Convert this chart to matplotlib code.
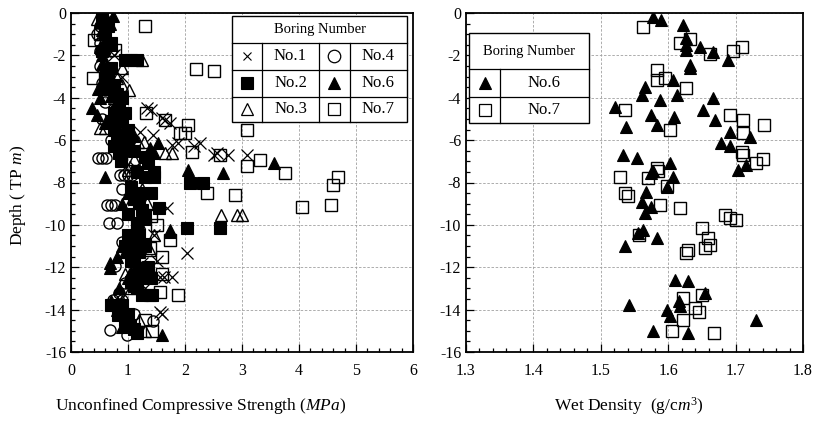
import matplotlib
matplotlib.use("Agg")
import matplotlib.pyplot as plt
from matplotlib.lines import Line2D
from matplotlib.patches import Rectangle
from matplotlib.ticker import MultipleLocator, FormatStrFormatter

plt.rcParams['font.family'] = ['Liberation Serif', 'DejaVu Serif']
plt.rcParams['mathtext.fontset'] = 'custom'
plt.rcParams['mathtext.rm'] = 'Liberation Serif'
plt.rcParams['mathtext.it'] = 'Liberation Serif:italic'
plt.rcParams['axes.unicode_minus'] = False

# ---------------- data: left panel (strength MPa, depth m) ----------------
no1_ucs = [0.75, 0.9, 1.33, 1.40, 1.59, 1.65, 1.74, 1.21, 1.44, 1.88, 2.26, 1.77, 2.15, 2.56, 2.50, 2.76, 3.08,
           0.95, 1.12, 1.30, 1.68, 1.45, 2.03, 1.50, 1.56, 1.63, 1.77, 1.30, 1.56, 1.60, 1.10, 1.25]
no1_dep = [-2.0, -3.0, -4.5, -4.6, -4.97, -5.05, -5.2, -5.6, -5.75, -6.15, -6.15, -6.23, -6.3, -6.62, -6.7, -6.7, -6.7,
           -7.25, -7.25, -8.5, -9.21, -10.5, -11.34, -11.7, -12.44, -12.44, -12.44, -13.0, -14.09, -14.2, -10.9, -11.8]

no2_ucs = [0.55, 0.65, 0.60, 0.70, 0.95, 1.06, 1.15, 0.70, 0.65, 0.75, 0.80, 0.85, 0.75, 0.95, 0.70, 0.90, 0.75, 1.00,
           0.80, 1.00, 0.75, 0.95, 1.30, 1.35, 1.15, 1.45, 1.30, 1.45, 2.09, 2.32, 1.20, 1.40, 1.10, 1.55, 1.00, 1.30,
           1.15, 2.03, 2.61, 1.00, 1.20, 1.10, 1.30, 1.00, 1.20, 1.05, 1.20, 1.24, 1.40, 1.10, 1.39, 1.25, 1.42, 0.71,
           0.90, 0.83, 1.00, 1.04, 1.15, 0.60, 0.85, 0.55, 0.90,
           0.62, 0.85, 0.95, 1.10, 0.88, 1.05, 1.20, 1.25, 1.15, 0.95, 1.10, 1.35, 1.05, 1.15, 0.95, 1.30, 1.10]
no2_dep = [-0.3, -0.6, -1.0, -1.4, -2.2, -2.2, -2.2, -2.6, -3.0, -3.4, -3.8, -4.3, -4.7, -4.7, -5.1, -5.1, -5.5, -5.5,
           -5.9, -5.9, -6.3, -6.3, -6.8, -7.1, -7.5, -7.5, -7.72, -7.72, -8.03, -8.03, -8.5, -8.5, -8.8, -9.2, -9.5, -9.6,
           -9.9, -10.16, -10.16, -10.5, -10.5, -10.9, -10.9, -11.3, -11.3, -11.7, -12.1, -12.5, -12.5, -12.9, -13.3, -13.3,
           -13.3, -13.77, -13.8, -14.24, -14.2, -14.72, -15.1, -3.6, -6.6, -1.8, -4.0,
           -2.9, -4.9, -6.0, -6.5, -7.0, -8.2, -8.9, -9.3, -10.0, -11.0, -11.5, -12.0, -12.7, -13.0, -14.5, -11.0, -14.9]

no3_ucs = [0.45, 0.55, 1.24, 0.90, 0.80, 0.90, 1.01, 0.75, 0.85, 0.51, 0.60, 0.70, 1.18, 1.28, 1.77, 1.65, 1.10, 1.00,
           1.04, 1.33, 2.64, 2.91, 3.00, 1.20, 1.45, 1.25, 1.38, 1.10, 0.95, 1.05, 0.90, 1.20, 1.30, 1.25]
no3_dep = [-0.3, -1.0, -2.2, -2.6, -3.08, -3.4, -3.63, -4.0, -4.4, -5.44, -5.44, -5.0, -6.1, -6.1, -6.62, -6.62, -6.9, -7.4,
           -8.98, -8.98, -9.53, -9.53, -9.53, -9.9, -10.5, -11.0, -11.2, -11.6, -12.3, -13.0, -13.6, -14.5, -15.0, -8.3]

no4_ucs = [0.55, 0.50, 0.45, 0.50, 0.51, 0.60, 0.70, 0.50, 0.55, 0.60, 0.55, 0.70, 0.48, 0.55, 0.62, 0.86, 0.93, 1.00,
           1.07, 0.90, 0.64, 0.70, 0.78, 0.66, 0.80, 0.89, 0.77, 0.95, 0.85, 0.74, 0.90, 1.44, 0.68, 0.98, 1.10]
no4_dep = [-0.2, -0.6, -1.0, -1.4, -1.8, -1.8, -1.8, -2.5, -3.3, -4.2, -5.0, -6.0, -6.86, -6.86, -6.86, -7.64, -7.64, -7.64,
           -7.64, -8.3, -9.06, -9.06, -9.06, -9.92, -9.92, -10.79, -11.93, -12.75, -13.2, -13.54, -13.54, -14.56, -14.95,
           -15.19, -14.2]

no6_ucs = [0.60, 0.74, 0.50, 0.55, 0.62, 0.50, 0.55, 0.54, 0.60, 0.55, 0.48, 0.60, 0.50, 0.36, 0.45, 0.60, 0.80, 1.53,
           1.39, 1.45, 2.05, 0.60, 3.56, 2.67, 1.00, 0.90, 1.30, 1.74, 1.74, 0.90, 0.80, 0.68, 0.68, 1.00, 0.85, 0.70,
           0.80, 1.59, 1.00, 1.20, 0.95,
           0.68, 0.72, 0.66, 0.70, 0.75, 0.95, 1.10, 0.95, 1.05, 0.90]
no6_dep = [-0.1, -0.15, -0.4, -0.8, -1.2, -1.6, -2.0, -2.4, -2.8, -3.2, -3.6, -3.6, -4.0, -4.5, -4.81, -5.2, -5.6, -6.15,
           -6.38, -6.6, -7.4, -7.72, -7.06, -7.53, -8.5, -9.0, -9.7, -10.24, -10.35, -11.0, -11.5, -11.81, -12.04, -12.5,
           -13.0, -13.6, -14.0, -15.19, -14.5, -10.8, -6.4,
           -0.5, -1.5, -2.6, -3.9, -4.4, -5.3, -5.8, -11.3, -12.2, -14.8]

no7_ucs = [1.29, 0.40, 0.50, 0.77, 2.20, 2.50, 0.39, 1.32, 1.65, 2.06, 3.08, 1.91, 2.00, 2.12, 2.61, 3.09, 3.32, 3.75,
           4.60, 4.69, 2.38, 2.88, 4.57, 4.05, 1.40, 1.50, 1.74, 1.39, 1.60, 1.60, 1.56, 1.87, 1.42, 1.30]
no7_dep = [-0.61, -1.27, -1.0, -1.75, -2.66, -2.72, -3.08, -4.73, -5.05, -5.28, -5.52, -5.67, -5.67, -6.54, -6.7, -7.2,
           -6.93, -7.56, -8.11, -7.72, -8.5, -8.58, -9.06, -9.17, -9.6, -10.0, -10.71, -11.1, -11.5, -12.3, -13.15, -13.3,
           -15.03, -14.5]

# ---------------- data: right panel (wet density g/cm3, depth m) ----------------
r6_den = [1.578, 1.589, 1.622, 1.627, 1.627, 1.627, 1.647, 1.667, 1.689, 1.632, 1.632, 1.607, 1.566, 1.561, 1.588, 1.613,
          1.667, 1.652, 1.670, 1.692, 1.679, 1.692, 1.721, 1.703, 1.716, 1.609, 1.583, 1.575, 1.521, 1.538, 1.533, 1.553,
          1.603, 1.577, 1.607, 1.598, 1.575, 1.567, 1.561, 1.566, 1.574, 1.563, 1.536, 1.583, 1.555, 1.610, 1.629, 1.542,
          1.598, 1.603, 1.616, 1.618, 1.578, 1.629, 1.730, 1.655]
r6_dep = [-0.17, -0.33, -0.57, -1.2, -1.5, -1.75, -1.59, -1.83, -2.2, -2.45, -2.6, -3.16, -3.47, -3.87, -4.1, -3.87,
          -4.02, -4.58, -5.05, -5.6, -6.12, -6.3, -5.83, -7.4, -7.17, -4.89, -5.28, -4.81, -4.42, -5.36, -6.7, -6.86,
          -7.09, -7.48, -7.72, -8.19, -7.56, -8.43, -8.9, -9.45, -9.14, -10.24, -11.02, -10.63, -10.4, -12.6, -12.67,
          -13.77, -14.0, -14.3, -13.6, -13.85, -15.03, -15.1, -14.5, -13.2]

r7_den = [1.562, 1.618, 1.632, 1.662, 1.696, 1.709, 1.583, 1.583, 1.595, 1.626, 1.536, 1.602, 1.691, 1.711, 1.742, 1.711,
          1.709, 1.711, 1.730, 1.741, 1.528, 1.570, 1.585, 1.583, 1.598, 1.536, 1.540, 1.588, 1.618, 1.556, 1.627, 1.622,
          1.605, 1.622, 1.684, 1.692, 1.701, 1.650, 1.659, 1.662, 1.629, 1.655, 1.668, 1.645, 1.640, 1.650]
r7_dep = [-0.64, -1.4, -1.24, -1.93, -1.78, -1.59, -2.69, -3.16, -3.08, -3.55, -4.58, -5.52, -4.81, -5.05, -5.28, -5.67,
          -6.54, -6.7, -7.09, -6.9, -7.72, -7.8, -7.48, -7.33, -8.15, -8.5, -8.66, -9.06, -9.2, -10.47, -11.34, -13.46,
          -15.03, -14.48, -9.53, -9.68, -9.76, -10.16, -10.63, -10.94, -11.18, -11.1, -15.1, -14.1, -13.9, -13.3]

W, H = 819, 421
fig = plt.figure(figsize=(W / 100, H / 100), dpi=100)

def frac(x0, y0, x1, y1):
    return [x0 / W, 1 - y1 / H, (x1 - x0) / W, (y1 - y0) / H]

axL = fig.add_axes(frac(71, 13, 413, 352))
axR = fig.add_axes(frac(466, 13, 803, 352))

open_kw = dict(ls='none', mfc='none', mec='black', mew=1.0, ms=8)
fill_kw = dict(ls='none', mfc='black', mec='black', mew=0.8, ms=8)

axL.plot(no1_ucs, no1_dep, marker='x', ls='none', color='black', mew=0.9, ms=9, zorder=3)
axL.plot(no4_ucs, no4_dep, marker='o', zorder=3, **open_kw)
axL.plot(no3_ucs, no3_dep, marker='^', zorder=3, **open_kw)
axL.plot(no7_ucs, no7_dep, marker='s', zorder=3, **open_kw)
axL.plot(no2_ucs, no2_dep, marker='s', zorder=4, **fill_kw)
axL.plot(no6_ucs, no6_dep, marker='^', zorder=4, **fill_kw)

axR.plot(r7_den, r7_dep, marker='s', zorder=3, **open_kw)
axR.plot(r6_den, r6_dep, marker='^', zorder=4, **fill_kw)

for ax, (xl, xh, maj, mn) in ((axL, (0, 6, 1, 0.2)), (axR, (1.3, 1.8, 0.1, 0.02))):
    ax.set_xlim(xl, xh)
    ax.set_ylim(-16, 0)
    ax.xaxis.set_major_locator(MultipleLocator(maj))
    ax.xaxis.set_minor_locator(MultipleLocator(mn))
    ax.yaxis.set_major_locator(MultipleLocator(2))
    ax.yaxis.set_minor_locator(MultipleLocator(0.5))
    ax.tick_params(which='both', direction='in', labelsize=11.5, colors='black', width=0.9)
    ax.tick_params(which='major', length=6)
    ax.tick_params(which='minor', length=3)
    ax.tick_params(axis='x', pad=8)
    ax.grid(True, which='major', color='#a0a0a0', linestyle=(0, (3, 2)), linewidth=0.6)
    ax.set_axisbelow(True)
    for s in ax.spines.values():
        s.set_linewidth(1.3)
        s.set_color('black')

axR.xaxis.set_major_formatter(FormatStrFormatter('%.1f'))

fig.text(201 / W, 1 - 406 / H, r"Unconfined Compressive Strength ($\mathit{MPa}$)", ha='center', va='center', fontsize=12.5)
fig.text(629 / W, 1 - 406 / H, r"Wet Density  (g/c$\mathit{m}^3$)", ha='center', va='center', fontsize=12.5)
fig.text(18 / W, 1 - 195 / H, r"Depth ( TP $\mathit{m}$)", ha='center', va='center', rotation=90, fontsize=12.5)

def draw_table(ax, xs, ys, header, rows):
    ax.add_patch(Rectangle((xs[0], ys[-1]), xs[-1] - xs[0], ys[0] - ys[-1], transform=ax.transAxes,
                           facecolor='white', edgecolor='black', lw=1.0, zorder=10, clip_on=False))
    for y in ys[1:-1]:
        ax.add_line(Line2D([xs[0], xs[-1]], [y, y], transform=ax.transAxes, color='black', lw=0.9, zorder=11))
    for x in xs[1:-1]:
        ax.add_line(Line2D([x, x], [ys[1], ys[-1]], transform=ax.transAxes, color='black', lw=0.9, zorder=11))
    ax.text((xs[0] + xs[-1]) / 2, (ys[0] + ys[1]) / 2, header, transform=ax.transAxes, ha='center', va='center',
            fontsize=10.5, zorder=12)
    for r, row in enumerate(rows):
        yc = (ys[r + 1] + ys[r + 2]) / 2
        for c, (mk, mkw, lab) in enumerate(row):
            xc_sym = (xs[2 * c] + xs[2 * c + 1]) / 2
            xc_lab = (xs[2 * c + 1] + xs[2 * c + 2]) / 2
            ax.plot([xc_sym], [yc], marker=mk, transform=ax.transAxes, zorder=12, clip_on=False, **mkw)
            ax.text(xc_lab, yc, lab, transform=ax.transAxes, ha='center', va='center', fontsize=12, zorder=12)

x_kw = dict(ls='none', color='black', mew=0.8, ms=6)
o_kw = dict(ls='none', mfc='none', mec='black', mew=0.9, ms=9)
f_kw = dict(ls='none', mfc='black', mec='black', mew=0.8, ms=8)

draw_table(axL, [0.4708, 0.5585, 0.7251, 0.8158, 0.9825], [0.9912, 0.9115, 0.8319, 0.7522, 0.6785], "Boring Number",
           [[('x', x_kw, 'No.1'), ('o', o_kw, 'No.4')],
            [('s', f_kw, 'No.2'), ('^', f_kw, 'No.6')],
            [('^', o_kw, 'No.3'), ('s', o_kw, 'No.7')]])
draw_table(axR, [0.0089, 0.1009, 0.365], [0.941, 0.8348, 0.7522, 0.6755], "Boring Number",
           [[('^', f_kw, 'No.6')],
            [('s', o_kw, 'No.7')]])

fig.savefig("out.png", dpi=100)
